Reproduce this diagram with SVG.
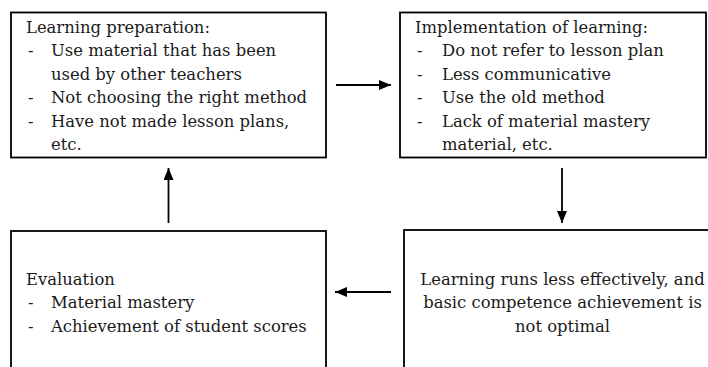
<svg xmlns="http://www.w3.org/2000/svg" width="708" height="367" viewBox="0 0 708 367">
<defs>
<marker id="ah" viewBox="0 0 12 10" refX="12" refY="5" markerWidth="12" markerHeight="10" markerUnits="userSpaceOnUse" orient="auto">
<path d="M0,0 L12,5 L0,10 Z" fill="#000"/>
</marker>
</defs>
<style>
.box{fill:#fff;stroke:#000;stroke-width:1.8}
.t{font-family:"DejaVu Serif","Liberation Serif",serif;font-size:16.4px;fill:#1a1a1a}
.c{text-anchor:middle}
.con{stroke:#000;stroke-width:1.8;fill:none;marker-end:url(#ah)}
</style>
<rect width="708" height="367" fill="#fff"/>
<g id="prep">
<rect class="box" x="11" y="12.5" width="315" height="145"/>
<text class="t" x="26" y="33">Learning preparation:</text>
<text class="t" x="28" y="56">-</text><text class="t" x="51" y="56">Use material that has been</text>
<text class="t" x="51" y="80">used by other teachers</text>
<text class="t" x="28" y="103">-</text><text class="t" x="51" y="103">Not choosing the right method</text>
<text class="t" x="28" y="127">-</text><text class="t" x="51" y="127">Have not made lesson plans,</text>
<text class="t" x="51" y="150">etc.</text>
</g>
<g id="impl">
<rect class="box" x="400" y="12.5" width="306" height="145"/>
<text class="t" x="415" y="33">Implementation of learning:</text>
<text class="t" x="417" y="56">-</text><text class="t" x="442" y="56">Do not refer to lesson plan</text>
<text class="t" x="417" y="80">-</text><text class="t" x="442" y="80">Less communicative</text>
<text class="t" x="417" y="103">-</text><text class="t" x="442" y="103">Use the old method</text>
<text class="t" x="417" y="127">-</text><text class="t" x="442" y="127">Lack of material mastery</text>
<text class="t" x="442" y="150">material, etc.</text>
</g>
<g id="eval">
<rect class="box" x="11" y="231" width="315" height="150"/>
<text class="t" x="26" y="285">Evaluation</text>
<text class="t" x="28" y="308">-</text><text class="t" x="51" y="308">Material mastery</text>
<text class="t" x="28" y="332">-</text><text class="t" x="51" y="332">Achievement of student scores</text>
</g>
<g id="result">
<rect class="box" x="404" y="230" width="320" height="150"/>
<text class="t c" x="562.5" y="285">Learning runs less effectively, and</text>
<text class="t c" x="562.5" y="308">basic competence achievement is</text>
<text class="t c" x="562.5" y="332">not optimal</text>
</g>
<g id="connectors">
<line class="con" x1="336" y1="85" x2="391" y2="85"/>
<line class="con" x1="562" y1="168" x2="562" y2="223"/>
<line class="con" x1="391" y1="292" x2="335" y2="292"/>
<line class="con" x1="168.5" y1="223" x2="168.5" y2="168"/>
</g>
</svg>
